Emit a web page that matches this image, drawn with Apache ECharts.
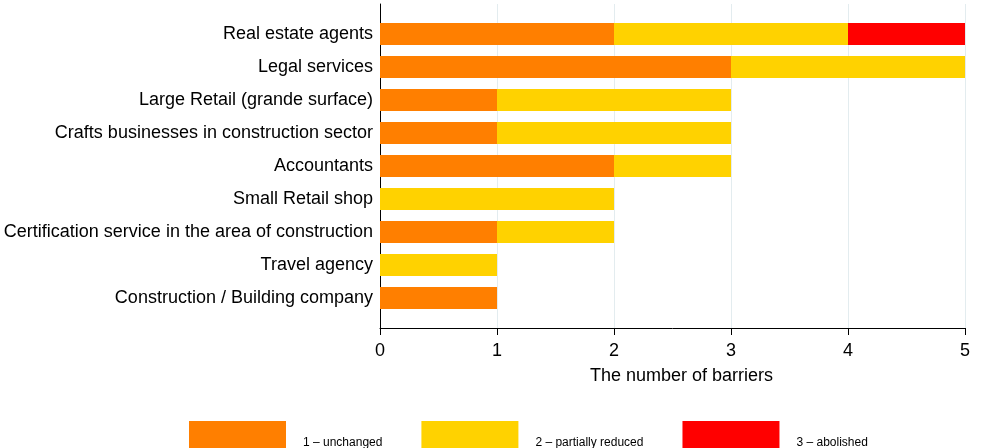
<!DOCTYPE html>
<html>
<head>
<meta charset="utf-8">
<script src="https://cdn.jsdelivr.net/npm/echarts@6/dist/echarts.min.js"></script>
<style>
  html, body { margin: 0; padding: 0; background: #fff; }
  #chart { width: 981px; height: 448px; }
</style>
</head>
<body>
<div id="chart"></div>
<script>
// categories, top to bottom
const categories = [
  "Real estate agents",
  "Legal services",
  "Large Retail (grande surface)",
  "Crafts businesses in construction sector",
  "Accountants",
  "Small Retail shop",
  "Certification service in the area of construction",
  "Travel agency",
  "Construction / Building company"
];
const unchanged = [2, 3, 1, 1, 2, 0, 1, 0, 1];
const partiallyReduced = [2, 2, 2, 2, 1, 2, 1, 1, 0];
const abolished = [1, 0, 0, 0, 0, 0, 0, 0, 0];
const seriesNames = ["1 – unchanged", "2 – partially reduced", "3 – abolished"];
const xTicks = [0, 1, 2, 3, 4, 5];

const font = "Liberation Sans, Arial, sans-serif";
const chart = echarts.init(document.getElementById("chart"));

const option = {
  animation: false,
  color: ["#ff7f00", "#ffd200", "#ff0000"],
  textStyle: { fontFamily: font },
  grid: [
    // frame: axis lines, ticks, gridlines
    { left: 380, right: 16, top: 4, bottom: 120 },
    // bars area (inset like the original plot region)
    { left: 380, right: 16, top: 17.5, bottom: 133.5 }
  ],
  xAxis: [
    {
      gridIndex: 0,
      type: "value",
      min: xTicks[0],
      max: xTicks[xTicks.length - 1],
      interval: 1,
      name: "The number of barriers",
      nameLocation: "middle",
      nameGap: 39,
      nameTextStyle: { fontSize: 18, color: "#000", fontFamily: font, padding: [0, 0, 0, 18] },
      axisLine: { show: true, lineStyle: { color: "#000", width: 1 } },
      axisTick: { show: true, length: 7, lineStyle: { color: "#000" } },
      axisLabel: { fontSize: 18, color: "#000", margin: 14, fontFamily: font },
      splitLine: { show: true, lineStyle: { color: "#e3ecef", width: 1 } }
    },
    {
      gridIndex: 1,
      type: "value",
      min: xTicks[0],
      max: xTicks[xTicks.length - 1],
      interval: 1,
      show: false
    }
  ],
  yAxis: [
    {
      gridIndex: 0,
      type: "value",
      min: 0,
      max: 1,
      axisLine: { show: true, lineStyle: { color: "#000", width: 1 } },
      axisTick: { show: false },
      axisLabel: { show: false },
      splitLine: { show: false }
    },
    {
      gridIndex: 1,
      type: "category",
      inverse: true,
      data: categories,
      axisLine: { show: false },
      axisTick: { show: false },
      axisLabel: { fontSize: 18, color: "#000", margin: 7, fontFamily: font },
      splitLine: { show: false }
    }
  ],
  legend: {
    left: 189,
    top: 421,
    padding: 0,
    itemWidth: 97,
    itemHeight: 44,
    itemGap: 39,
    icon: "rect",
    data: seriesNames,
    textStyle: { fontSize: 12, color: "#000", fontFamily: font, padding: [0, 0, 0, 12] }
  },
  series: [
    { name: seriesNames[0], data: unchanged },
    { name: seriesNames[1], data: partiallyReduced },
    { name: seriesNames[2], data: abolished }
  ].map(s => ({
    name: s.name,
    type: "bar",
    stack: "total",
    xAxisIndex: 1,
    yAxisIndex: 1,
    barWidth: 22,
    data: s.data
  }))
};

chart.setOption(option);
</script>
</body>
</html>
